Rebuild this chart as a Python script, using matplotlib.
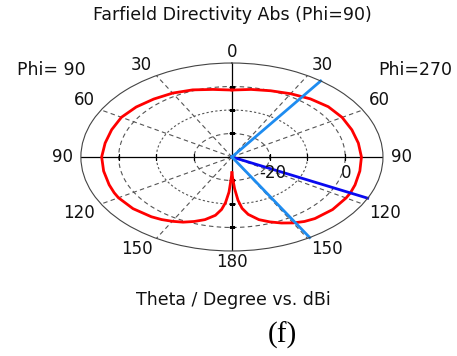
import numpy as np
import matplotlib
matplotlib.use("Agg")
from matplotlib import pyplot as plt

# Farfield cut, theta in degrees, directivity in dBi
theta_deg = [0, 10, 20, 30, 40, 50, 60, 70, 80, 90, 100, 110, 116, 120, 130,
             140, 145, 150, 155, 160, 165, 170, 173, 175, 177, 178, 179, 180]
dbi_phi270 = [-1.5, -0.8, 0.0, 1.1, 2.3, 3.3, 3.7, 3.8, 4.0, 4.3, 4.4, 4.7, 4.9, 4.9, 4.8,
              4.2, 3.5, 2.4, 1.0, -0.6, -2.4, -5.2, -8.0, -11.5, -16.5, -19.5, -21.5, -23.3]
dbi_phi90 = [-1.5, -0.8, 0.4, 1.4, 2.2, 3.1, 3.8, 3.9, 4.1, 4.5, 4.5, 4.6, 4.7, 4.7, 4.2,
             3.2, 2.5, 1.6, 0.6, -0.8, -2.4, -4.8, -7.5, -10.5, -15.0, -18.8, -21.5, -23.3]

main_lobe_deg = 116          # main lobe direction
beamwidth_deg = [36, 149]    # 3 dB angular width limits

r_min, r_max = -30, 10
grid_r = [-20, -10, 0]
r_labels = ["-20", "0"]
r_label_vals = [-20, 0]
theta_labels = ["0", "30", "60", "90", "120", "150", "180"]

# where each theta label sits (display angle, radius) on the right side
label_spots = [(0, 14.7), (31.5, 15.9), (58.2, 16.0), (90, 14.9),
               (120.5, 17.0), (147.3, 16.6), (180, 14.7)]

txt = "#111111"
fig = plt.figure(figsize=(4.57, 3.56), dpi=100)
ax = fig.add_axes([0.177, 0.295, 0.661, 0.528], projection="polar")
ax.set_aspect("auto")
ax.set_theta_zero_location("N")
ax.set_theta_direction(-1)
ax.set_ylim(r_min, r_max)
ax.grid(False)
ax.set_xticks([])
ax.set_yticks([])
ax.spines["polar"].set_color("#444444")
ax.spines["polar"].set_linewidth(0.8)

full = np.linspace(0, 2 * np.pi, 361)
# dashed level rings
for i, r in enumerate(grid_r):
    ls = (0, (2, 2)) if i == 1 else (0, (4, 3))
    ax.plot(full, np.full_like(full, r), color="#555555", lw=0.8, ls=ls)

# dashed spokes every 30 degrees, solid axes through the centre
for a in [30, 60, 120, 150, 210, 240, 300, 330]:
    ax.plot([np.radians(a)] * 2, [r_min, r_max], color="#555555", lw=0.8, ls=(0, (4, 3)))
for a in [0, 90, 180, 270]:
    ax.plot([np.radians(a)] * 2, [r_min, r_max], color="black", lw=0.9)
    mk = "|" if a in (90, 270) else "_"
    ax.plot([np.radians(a)] * len(grid_r), grid_r, ls="none", marker=mk,
            color="black", ms=5, mew=0.9)

# pattern: Phi=270 on the right, Phi=90 mirrored on the left
th = np.radians(theta_deg)
ax.plot(th, dbi_phi270, color="#ff0000", lw=2)
ax.plot(-th, dbi_phi90, color="#ff0000", lw=2)

# main lobe and 3 dB width markers
ax.plot([np.radians(main_lobe_deg)] * 2, [r_min, r_max], color="#0a0af0", lw=2, clip_on=False)
for b in beamwidth_deg:
    ax.plot([np.radians(b)] * 2, [r_min, r_max], color="#1e8cf0", lw=2, clip_on=False)

# radial labels under the right half axis
for s, r in zip(r_labels, r_label_vals):
    dx = 3 if s == "-20" else 1
    ax.annotate(s, (np.radians(90), r), xytext=(dx, -7), textcoords="offset pixels",
                ha="center", va="top", fontsize=12, color=txt)

# theta labels on both sides
for s, (a, rr) in zip(theta_labels, label_spots):
    for sgn in ([1] if a in (0, 180) else [1, -1]):
        ax.text(sgn * np.radians(a), rr, s, ha="center", va="center",
                fontsize=12, color=txt, clip_on=False)

fig.text(0.508, 0.957, "Farfield Directivity Abs (Phi=90)", ha="center", va="center",
         fontsize=12.5, color=txt)
fig.text(0.112, 0.803, "Phi= 90", ha="center", va="center", fontsize=12.5, color=txt)
fig.text(0.908, 0.803, "Phi=270", ha="center", va="center", fontsize=12.5, color=txt)
fig.text(0.511, 0.157, "Theta / Degree vs. dBi", ha="center", va="center",
         fontsize=12.5, color=txt)
fig.text(0.617, 0.057, "(f)", ha="center", va="center", fontsize=21,
         family="Liberation Serif", color="black")

fig.savefig("out.png", dpi=100)
